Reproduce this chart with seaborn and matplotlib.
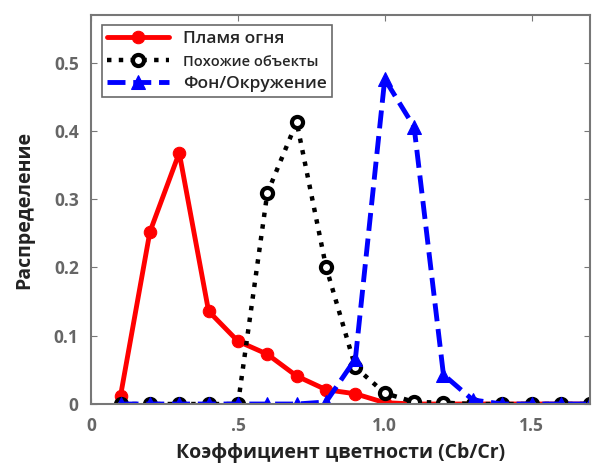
import seaborn as sns
import matplotlib.pyplot as plt

# --- data ---
ratio = [0.1, 0.2, 0.3, 0.4, 0.5, 0.6, 0.7, 0.8, 0.9, 1.0, 1.1, 1.2, 1.3, 1.4, 1.5, 1.6, 1.7]
fire = [0.012, 0.252, 0.368, 0.136, 0.092, 0.073, 0.041, 0.021, 0.015, 0.002, 0.0, 0.0, 0.0, 0.0, 0.0, 0.0, 0.0]
similar = [0.0, 0.0, 0.0, 0.0, 0.0, 0.309, 0.413, 0.201, 0.054, 0.016, 0.003, 0.002, 0.0, 0.0, 0.0, 0.0, 0.0]
background = [0.0, 0.0, 0.0, 0.0, 0.0, 0.0, 0.0, 0.003, 0.066, 0.476, 0.406, 0.043, 0.006, 0.0, 0.0, 0.0, 0.0]
labels = ["Пламя огня", "Похожие объекты", "Фон/Окружение"]
xticks = [0, 0.5, 1.0, 1.5]
xtick_labels = ["0", ".5", "1.0", "1.5"]
yticks = [0, 0.1, 0.2, 0.3, 0.4, 0.5]
ytick_labels = ["0", "0.1", "0.2", "0.3", "0.4", "0.5"]

sns.set_style("white")
plt.rcParams["font.family"] = ["Open Sans", "DejaVu Sans"]

fig = plt.figure(figsize=(5.92, 4.66), dpi=100)
ax = fig.add_axes([0.154, 0.133, 0.843, 0.835])

sns.lineplot(x=ratio, y=fire, ax=ax, color="#ff0000", linewidth=3.5,
             marker="o", markersize=9, markeredgecolor="#ff0000", label=labels[0])
sns.lineplot(x=ratio, y=similar, ax=ax, color="black", linewidth=3.2, linestyle=":",
             marker="o", markersize=8, markerfacecolor="white", markeredgewidth=3,
             markeredgecolor="black", label=labels[1])
sns.lineplot(x=ratio, y=background, ax=ax, color="#0000ff", linewidth=3.5, linestyle="--",
             marker="^", markersize=10.5, markeredgecolor="#0000ff", label=labels[2])

ax.set_xlim(0, 1.7)
ax.set_ylim(0, 0.57)
ax.set_xticks(xticks)
ax.set_xticklabels(xtick_labels)
ax.set_yticks(yticks)
ax.set_yticklabels(ytick_labels)
ax.tick_params(direction="in", length=4, color="#777777", labelcolor="#666666",
               labelsize=12.5, top=True, right=True, left=True, bottom=True, pad=9)
for lab in ax.get_xticklabels() + ax.get_yticklabels():
    lab.set_fontweight("bold")
for s in ax.spines.values():
    s.set_color("#777777")
    s.set_linewidth(1.5)

ax.set_xlabel("Коэффициент цветности (Cb/Cr)", fontsize=14, fontweight="bold",
              color="#222222", labelpad=6)
ax.set_ylabel("Распределение", fontsize=14, fontweight="bold", color="#222222", labelpad=14)

leg = ax.legend(loc="upper left", frameon=True, fancybox=False, edgecolor="#444444",
                handlelength=3.6, borderaxespad=0.6, labelspacing=0.4, fontsize=12.5,
                borderpad=0.3)
leg.get_frame().set_linewidth(1.2)
sizes = [12.5, 10.5, 12.5]
for t, fs in zip(leg.get_texts(), sizes):
    t.set_fontsize(fs)
    t.set_fontweight("semibold")

fig.savefig("out.png", dpi=100)
